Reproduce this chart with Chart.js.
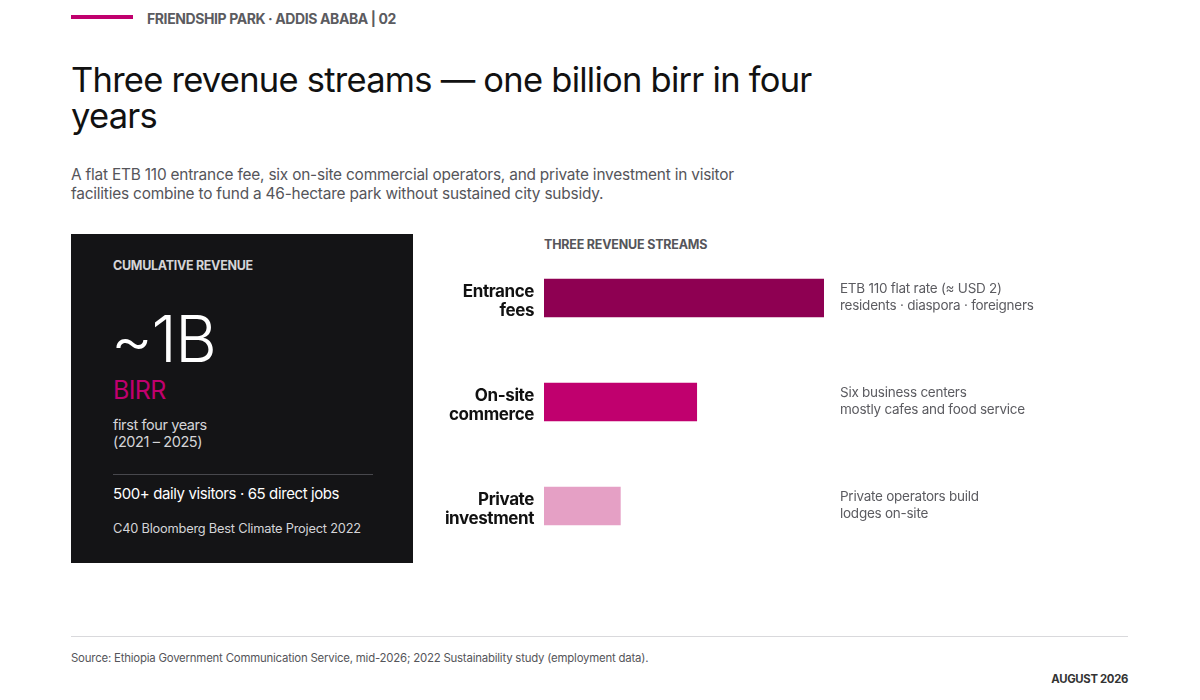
<!DOCTYPE html>
<html>
<head>
<meta charset="utf-8">
<script src="https://cdn.jsdelivr.net/npm/chart.js@4.4.1/dist/chart.umd.min.js"></script>
<style>
  html, body { margin: 0; padding: 0; background: #fff; }
  body { width: 1200px; height: 700px; position: relative; overflow: hidden; font-family: Inter, "Noto Sans", sans-serif; color: #111; }
  .abs { position: absolute; white-space: nowrap; }
  #accent { left: 71px; top: 15px; width: 62px; height: 4px; background: #c0006e; }
  #kicker { left: 147px; top: 10px; font-size: 14px; font-weight: 700; color: #5b5b60; letter-spacing: -0.4px; }
  #title { left: 71px; top: 62px; font-size: 34.5px; line-height: 36px; font-weight: 400; letter-spacing: -0.75px; color: #111; white-space: normal; width: 790px; }
  #sub { left: 71px; top: 166px; font-size: 15.4px; line-height: 18.5px; color: #55555a; white-space: normal; width: 700px; letter-spacing: -0.2px; }
  #card { left: 71px; top: 234px; width: 342px; height: 329px; background: #141416; }
  .card-t { position: absolute; white-space: nowrap; }
  #streams { left: 544px; top: 237px; font-size: 12.5px; font-weight: 700; color: #55555a; letter-spacing: -0.2px; }
  #chartwrap { left: 430px; top: 236px; width: 720px; height: 330px; }
  #rule { left: 71px; top: 636px; width: 1057px; height: 1px; background: #d9d9dc; }
  #source { left: 71px; top: 651px; font-size: 11.4px; color: #55555a; letter-spacing: -0.2px; }
  #date { right: 72px; top: 672px; font-size: 11.3px; font-weight: 700; color: #333; letter-spacing: -0.3px; }
</style>
</head>
<body>
<div class="abs" id="accent"></div>
<div class="abs" id="kicker">FRIENDSHIP PARK · ADDIS ABABA | 02</div>
<div class="abs" id="title">Three revenue streams — one billion birr in four years</div>
<div class="abs" id="sub">A flat ETB 110 entrance fee, six on-site commercial operators, and private investment in visitor facilities combine to fund a 46-hectare park without sustained city subsidy.</div>

<div class="abs" id="card">
  <div class="card-t" style="left:42px;top:24px;font-size:12.5px;font-weight:700;color:#d4d4d8;letter-spacing:-0.3px;">CUMULATIVE REVENUE</div>
  <div class="card-t" style="left:40px;top:66px;font-size:64px;font-weight:300;color:#fff;letter-spacing:-1.4px;">~1B</div>
  <div class="card-t" style="left:42px;top:141px;font-size:25px;font-weight:400;color:#c0006e;letter-spacing:-0.6px;">BIRR</div>
  <div class="card-t" style="left:42px;top:182px;font-size:14.5px;line-height:17px;color:#d4d4d8;letter-spacing:-0.4px;">first four years<br>(2021 – 2025)</div>
  <div class="card-t" style="left:42px;top:240px;width:260px;height:1px;background:#48484d;"></div>
  <div class="card-t" style="left:42px;top:250px;font-size:15px;color:#fff;letter-spacing:-0.4px;">500+ daily visitors · 65 direct jobs</div>
  <div class="card-t" style="left:42px;top:287px;font-size:12.8px;color:#d4d4d8;letter-spacing:-0.2px;">C40 Bloomberg Best Climate Project 2022</div>
</div>

<div class="abs" id="streams">THREE REVENUE STREAMS</div>
<div class="abs" id="chartwrap"><canvas id="bars"></canvas></div>

<div class="abs" id="rule"></div>
<div class="abs" id="source">Source: Ethiopia Government Communication Service, mid-2026; 2022 Sustainability study (employment data).</div>
<div class="abs" id="date">AUGUST 2026</div>

<script>
// revenue streams, relative share
const streamLabels = [['Entrance', 'fees'], ['On-site', 'commerce'], ['Private', 'investment']];
const streamShare = [55, 30, 15];
const streamColors = ['#8e0052', '#c0006e', '#e5a0c5'];
const streamNotes = [
  ['ETB 110 flat rate (≈ USD 2)', 'residents · diaspora · foreigners'],
  ['Six business centers', 'mostly cafes and food service'],
  ['Private operators build', 'lodges on-site']
];

// tighter tracking for the category labels
const trackPlugin = {
  id: 'track',
  beforeDraw(chart) { chart.ctx.letterSpacing = '-0.4px'; }
};

// notes to the right of the plot area
const notesPlugin = {
  id: 'notes',
  afterDatasetsDraw(chart) {
    const ctx = chart.ctx;
    const y = chart.scales.y;
    const x0 = chart.chartArea.right + 16;
    ctx.save();
    ctx.letterSpacing = '-0.25px';
    ctx.font = '13.5px Inter, "Noto Sans", sans-serif';
    ctx.fillStyle = '#5b5b60';
    ctx.textAlign = 'left';
    ctx.textBaseline = 'middle';
    streamNotes.forEach((lines, i) => {
      const cy = y.getPixelForValue(i);
      ctx.fillText(lines[0], x0, cy - 9);
      ctx.fillText(lines[1], x0, cy + 8);
    });
    ctx.restore();
  }
};

new Chart(document.getElementById('bars'), {
  type: 'bar',
  data: {
    labels: streamLabels,
    datasets: [{
      data: streamShare,
      backgroundColor: streamColors,
      borderWidth: 0,
      barThickness: 38
    }]
  },
  options: {
    indexAxis: 'y',
    responsive: true,
    maintainAspectRatio: false,
    animation: false,
    layout: { padding: { top: 10, bottom: 8, right: 326, left: 0 } },
    plugins: { legend: { display: false }, tooltip: { enabled: false } },
    scales: {
      x: { display: false, min: 0, max: 55 },
      y: {
        grid: { display: false, drawTicks: false },
        border: { display: false },
        ticks: {
          padding: 10,
          labelOffset: 3,
          color: '#111',
          font: { family: 'Inter, "Noto Sans", sans-serif', size: 17, weight: '700', lineHeight: 1.13 }
        },
        afterFit(scale) {
          scale.width = 114;
          scale.paddingTop = 0;
          scale.paddingBottom = 0;
        }
      }
    }
  },
  plugins: [trackPlugin, notesPlugin]
});
</script>
</body>
</html>
